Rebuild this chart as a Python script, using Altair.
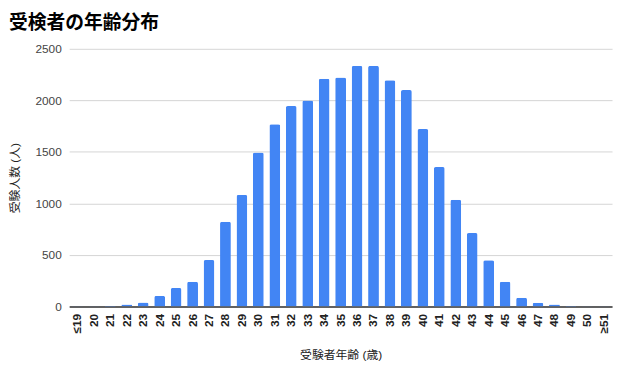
import altair as alt
import pandas as pd

ages = ["≤19", "20", "21", "22", "23", "24", "25", "26", "27", "28", "29", "30",
        "31", "32", "33", "34", "35", "36", "37", "38", "39", "40", "41", "42",
        "43", "44", "45", "46", "47", "48", "49", "50", "≥51"]
counts = [2, 1, 3, 19, 38, 102, 179, 240, 450, 821, 1082, 1494,
          1769, 1944, 1999, 2210, 2222, 2334, 2334, 2196, 2100, 1721, 1353, 1034,
          712, 447, 240, 84, 35, 19, 3, 2, 2]

df = pd.DataFrame({"age": ages, "count": counts})

FONT = "Liberation Sans, Noto Sans CJK JP"

chart = alt.Chart(df).mark_bar(
    color="#4285F4",
    cornerRadiusTopLeft=2,
    cornerRadiusTopRight=2,
).encode(
    x=alt.X("age:N", sort=ages, title="受験者年齢 (歳)",
            scale=alt.Scale(paddingInner=0.34, paddingOuter=0.17),
            axis=alt.Axis(labelAngle=270, labelAlign="right", labelBaseline="middle",
                          labelFontSize=12, labelColor="#222", labelPadding=7,
                          labelFontWeight="bold",
                          ticks=False, domainColor="#333", domainWidth=1.5,
                          titleFontSize=12, titleFontWeight="normal", titleColor="#222",
                          titlePadding=17, labelFont=FONT, titleFont=FONT)),
    y=alt.Y("count:Q", title="受験人数 (人)",
            scale=alt.Scale(domain=[0, 2500], nice=False),
            axis=alt.Axis(values=[0, 500, 1000, 1500, 2000, 2500], ticks=False,
                          format="d",
                          domain=False, gridColor="#d4d4d4", labelFontSize=12,
                          labelColor="#444", labelPadding=8,
                          titleFontSize=12, titleFontWeight="normal", titleColor="#222",
                          titlePadding=14, labelFont=FONT, titleFont=FONT)),
).properties(
    width=550,
    height=261,
    autosize=alt.AutoSizeParams(type="none"),
    padding={"left": 62, "top": 39, "right": 3, "bottom": 56},
    title=alt.TitleParams("受検者の年齢分布", anchor="start", frame="group",
                          fontSize=19, fontWeight="bold", color="#000",
                          font="Noto Sans CJK JP", dx=-61, offset=10),
).configure_view(stroke=None)

chart.save("out.html", embed_options={"renderer": "svg", "actions": False})
